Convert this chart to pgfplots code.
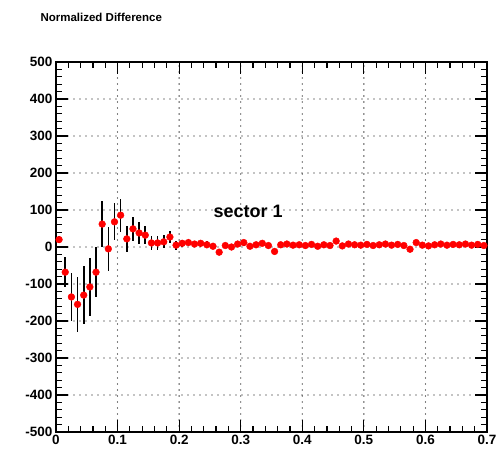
\documentclass[border=0pt]{standalone}
\usepackage{pgfplots}
\usepackage{pgfplotstable}
\pgfplotsset{compat=1.18}
\usepackage{fontspec}
\setmainfont{Liberation Sans}
\pgfplotstableread{
x y e
0.005 20 10
0.015 -68 40
0.025 -135 65
0.035 -155 75
0.045 -130 78
0.055 -108 78
0.065 -68 68
0.075 62 63
0.085 -5 60
0.095 68 50
0.105 86 45
0.115 22 35
0.125 49 33
0.135 38 30
0.145 32 25
0.155 11 20
0.165 11 20
0.175 14 18
0.185 27 15
0.195 5 12
0.205 10 10
0.215 12 10
0.225 8 9
0.235 10 9
0.245 6 9
0.255 2 8
0.265 -14 8
0.275 4 8
0.285 0 8
0.295 8 8
0.305 12 8
0.315 2 7
0.325 6 7
0.335 10 7
0.345 4 7
0.355 -12 7
0.365 6 7
0.375 8 7
0.385 5 6
0.395 6 6
0.405 4 6
0.415 7 6
0.425 2 6
0.435 6 6
0.445 4 6
0.455 16 6
0.465 3 6
0.475 8 6
0.485 6 6
0.495 5 6
0.505 7 6
0.515 4 6
0.525 6 6
0.535 8 6
0.545 5 6
0.555 7 6
0.565 4 6
0.575 -6 6
0.585 12 6
0.595 5 6
0.605 3 6
0.615 6 6
0.625 8 6
0.635 5 6
0.645 7 6
0.655 6 6
0.665 8 6
0.675 5 6
0.685 7 6
0.695 4 6
}\datatable
\begin{document}
\begin{tikzpicture}
\path[use as bounding box] (-56pt,-19pt) rectangle (443pt,432pt);
\begin{axis}[
  at={(0,0)}, anchor=south west,
  scale only axis, width=431pt, height=370pt,
  xmin=0, xmax=0.7, ymin=-500, ymax=500,
  xtick={0,0.1,0.2,0.3,0.4,0.5,0.6,0.7},
  ytick={-500,-400,-300,-200,-100,0,100,200,300,400,500},
  minor x tick num=4, minor y tick num=4,
  major tick length=12pt, minor tick length=6pt,
  tick style={black, line width=1.2pt},
  axis line style={line width=1.5pt},
  grid=major,
  major grid style={black, line width=1.3pt, dash pattern=on 0pt off 6pt, line cap=round},
  /pgf/number format/assume math mode=true,
  ticklabel style={font=\fontsize{13.5}{15}\selectfont\bfseries},
  xticklabel style={/pgf/number format/fixed, /pgf/number format/precision=1},
  yticklabel style={/pgf/number format/fixed, /pgf/number format/1000 sep={}},
]
\addplot[draw=none, mark=none, forget plot,
  error bars/.cd, y dir=both, y explicit,
  error bar style={black, line width=1.6pt}, error mark=none]
  table[x=x, y=y, y error=e] {\datatable};
\addplot[only marks, mark=*, mark size=3.4pt, color=red, mark options={fill=red, draw=red}]
  table[x=x, y=y] {\datatable};
\node[font=\fontsize{18}{20}\selectfont\bfseries] at (axis cs:0.312,97) {sector 1};
\end{axis}
\node[anchor=west, font=\fontsize{11.5}{13}\selectfont\bfseries] at (-19pt,415pt) {Normalized Difference};
\end{tikzpicture}
\end{document}
